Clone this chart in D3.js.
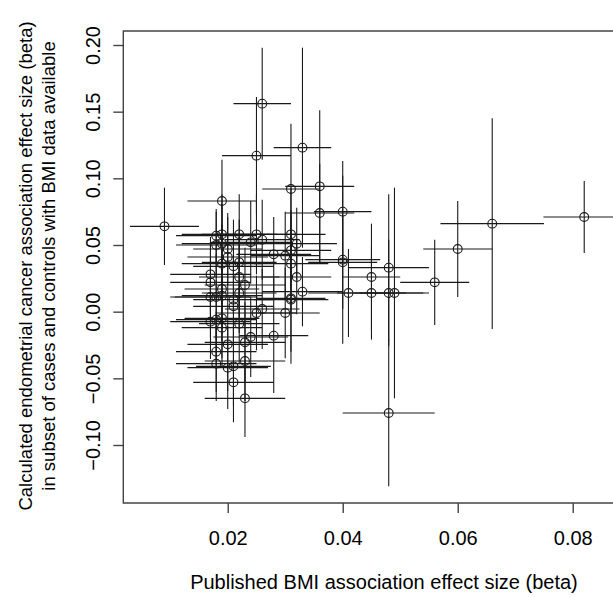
<!DOCTYPE html>
<html><head><meta charset="utf-8">
<script src="https://cdn.jsdelivr.net/npm/d3@7"></script>
<style>
body{margin:0;background:#fff}
svg{display:block}
text{font-family:"Liberation Sans",Arial,sans-serif;fill:#000}
</style>
</head><body>
<svg id="chart" width="613" height="597"></svg>
<script>
// Published BMI effect (x), calculated endometrial cancer effect (y), and error half-widths
const xVals = [0.009,0.026,0.025,0.033,0.036,0.031,0.036,0.040,0.019,0.040,0.040,0.041,0.045,0.045,0.048,0.048,0.049,0.048,0.056,0.060,0.066,0.082,
  0.018,0.019,0.022,0.025,0.031,0.026,0.024,0.018,0.019,0.032,0.020,0.031,0.028,0.030,0.020,0.019,0.022,0.021,0.031,0.017,0.022,0.032,0.023,0.017,0.019,0.033,
  0.017,0.018,0.019,0.022,0.021,0.031,0.031,0.021,0.026,0.025,0.030,0.017,0.018,0.019,0.019,0.022,0.024,0.028,0.023,0.020,0.018,0.018,0.020,0.021,0.023,0.021,0.023];
const yVals = [0.064,0.156,0.117,0.123,0.094,0.092,0.074,0.075,0.083,0.039,0.037,0.014,0.026,0.014,0.033,0.014,0.014,-0.076,0.022,0.047,0.066,0.071,
  0.057,0.058,0.058,0.058,0.058,0.054,0.052,0.050,0.051,0.051,0.047,0.046,0.043,0.042,0.041,0.036,0.037,0.034,0.036,0.028,0.026,0.026,0.020,0.022,0.017,0.015,
  0.011,0.011,0.012,0.014,0.009,0.010,0.009,0.004,0.002,-0.001,-0.001,-0.0075,-0.006,-0.005,-0.012,-0.009,-0.019,-0.018,-0.023,-0.0245,-0.030,-0.039,-0.042,-0.041,-0.037,-0.053,-0.065];
const xErr = [0.006,0.005,0.006,0.005,0.006,0.005,0.006,0.005,0.006,0.0065,0.006,0.007,0.005,0.006,0.007,0.006,0.006,0.008,0.006,0.006,0.009,0.0071,
  0.007,0.007,0.0065,0.007,0.006,0.0065,0.007,0.007,0.007,0.007,0.006,0.007,0.0065,0.006,0.007,0.007,0.0065,0.007,0.0065,0.007,0.007,0.006,0.007,0.007,0.0065,0.007,
  0.007,0.0072,0.007,0.0065,0.007,0.006,0.0065,0.007,0.0065,0.007,0.006,0.007,0.007,0.0065,0.007,0.007,0.0065,0.006,0.007,0.007,0.007,0.007,0.007,0.0065,0.007,0.007,0.007];
const yErr = [0.029,0.042,0.044,0.075,0.057,0.049,0.037,0.038,0.031,0.063,0.035,0.033,0.040,0.035,0.055,0.040,0.079,0.055,0.032,0.036,0.079,0.027,
  0.020,0.030,0.030,0.030,0.035,0.030,0.031,0.025,0.030,0.027,0.027,0.030,0.028,0.033,0.030,0.030,0.032,0.035,0.036,0.028,0.030,0.028,0.028,0.030,0.030,0.026,
  0.030,0.032,0.034,0.030,0.035,0.040,0.048,0.030,0.030,0.028,0.034,0.028,0.030,0.030,0.030,0.030,0.030,0.043,0.030,0.035,0.030,0.028,0.031,0.030,0.030,0.030,0.029];
const xTicks = [0.02,0.04,0.06,0.08];
const yTicks = [-0.10,-0.05,0.00,0.05,0.10,0.15,0.20];
const xTitle = "Published BMI association effect size (beta)";
const yTitle1 = "Calculated endometrial cancer association effect size (beta)";
const yTitle2 = "in subset of cases and controls with BMI data available";

const svg = d3.select("#chart");
const L = 123.3, R = 644.6, T = 31, B = 503;
const x = d3.scaleLinear().domain([0.00184, 0.0925]).range([L, R]);
const y = d3.scaleLinear().domain([-0.1435, 0.2105]).range([B, T]);
const FS = 20, FSY = 18.5;

const data = xVals.map((v,i)=>({x:v,y:yVals[i],xe:xErr[i],ye:yErr[i]}));
const g = svg.append("g");
g.selectAll("line.h").data(data).join("line").attr("class","h")
  .attr("x1",d=>x(d.x-d.xe)).attr("x2",d=>x(d.x+d.xe))
  .attr("y1",d=>y(d.y)).attr("y2",d=>y(d.y))
  .attr("stroke","#1a1a1a").attr("stroke-width",1.1);
g.selectAll("line.v").data(data).join("line").attr("class","v")
  .attr("x1",d=>x(d.x)).attr("x2",d=>x(d.x))
  .attr("y1",d=>y(d.y-d.ye)).attr("y2",d=>y(d.y+d.ye))
  .attr("stroke","#1a1a1a").attr("stroke-width",1.1);
g.selectAll("circle").data(data).join("circle")
  .attr("cx",d=>x(d.x)).attr("cy",d=>y(d.y)).attr("r",4.4)
  .attr("fill","none").attr("stroke","#1a1a1a").attr("stroke-width",1.1);

svg.append("path").attr("d",`M${R},${T}H${L}V${B}H${R}`)
  .attr("fill","none").attr("stroke","#444").attr("stroke-width",1.4);

const xa = svg.append("g").attr("transform",`translate(0,${B})`)
  .call(d3.axisBottom(x).tickValues(xTicks).tickSize(10).tickPadding(17.8).tickFormat(d3.format(".2f")));
xa.select(".domain").remove();
xa.selectAll("line").attr("stroke","#444").attr("stroke-width",1.4);
xa.selectAll("text").attr("font-size",FS).attr("font-family","Liberation Sans, Arial, sans-serif").attr("fill","#000");

const ya = svg.append("g").attr("transform",`translate(${L},0)`)
  .call(d3.axisLeft(y).tickValues(yTicks).tickSize(10).tickFormat(d3.format(".2f")));
ya.select(".domain").remove();
ya.selectAll("line").attr("stroke","#444").attr("stroke-width",1.4);
ya.selectAll("text").attr("font-size",FS).attr("font-family","Liberation Sans, Arial, sans-serif").attr("fill","#000")
  .attr("text-anchor","middle").attr("x",null).attr("dy",null)
  .attr("transform",`translate(${100-L},0) rotate(-90)`);

svg.append("text").attr("x",(L+R)/2).attr("y",588.5).attr("text-anchor","middle")
  .attr("font-size",FS).text(xTitle);
const cy = 266;
svg.append("text").attr("transform",`translate(31.7,${cy}) rotate(-90)`).attr("text-anchor","middle")
  .attr("font-size",FSY).text(yTitle1);
svg.append("text").attr("transform",`translate(54.5,${cy}) rotate(-90)`).attr("text-anchor","middle")
  .attr("font-size",FSY).text(yTitle2);
</script>
</body></html>
